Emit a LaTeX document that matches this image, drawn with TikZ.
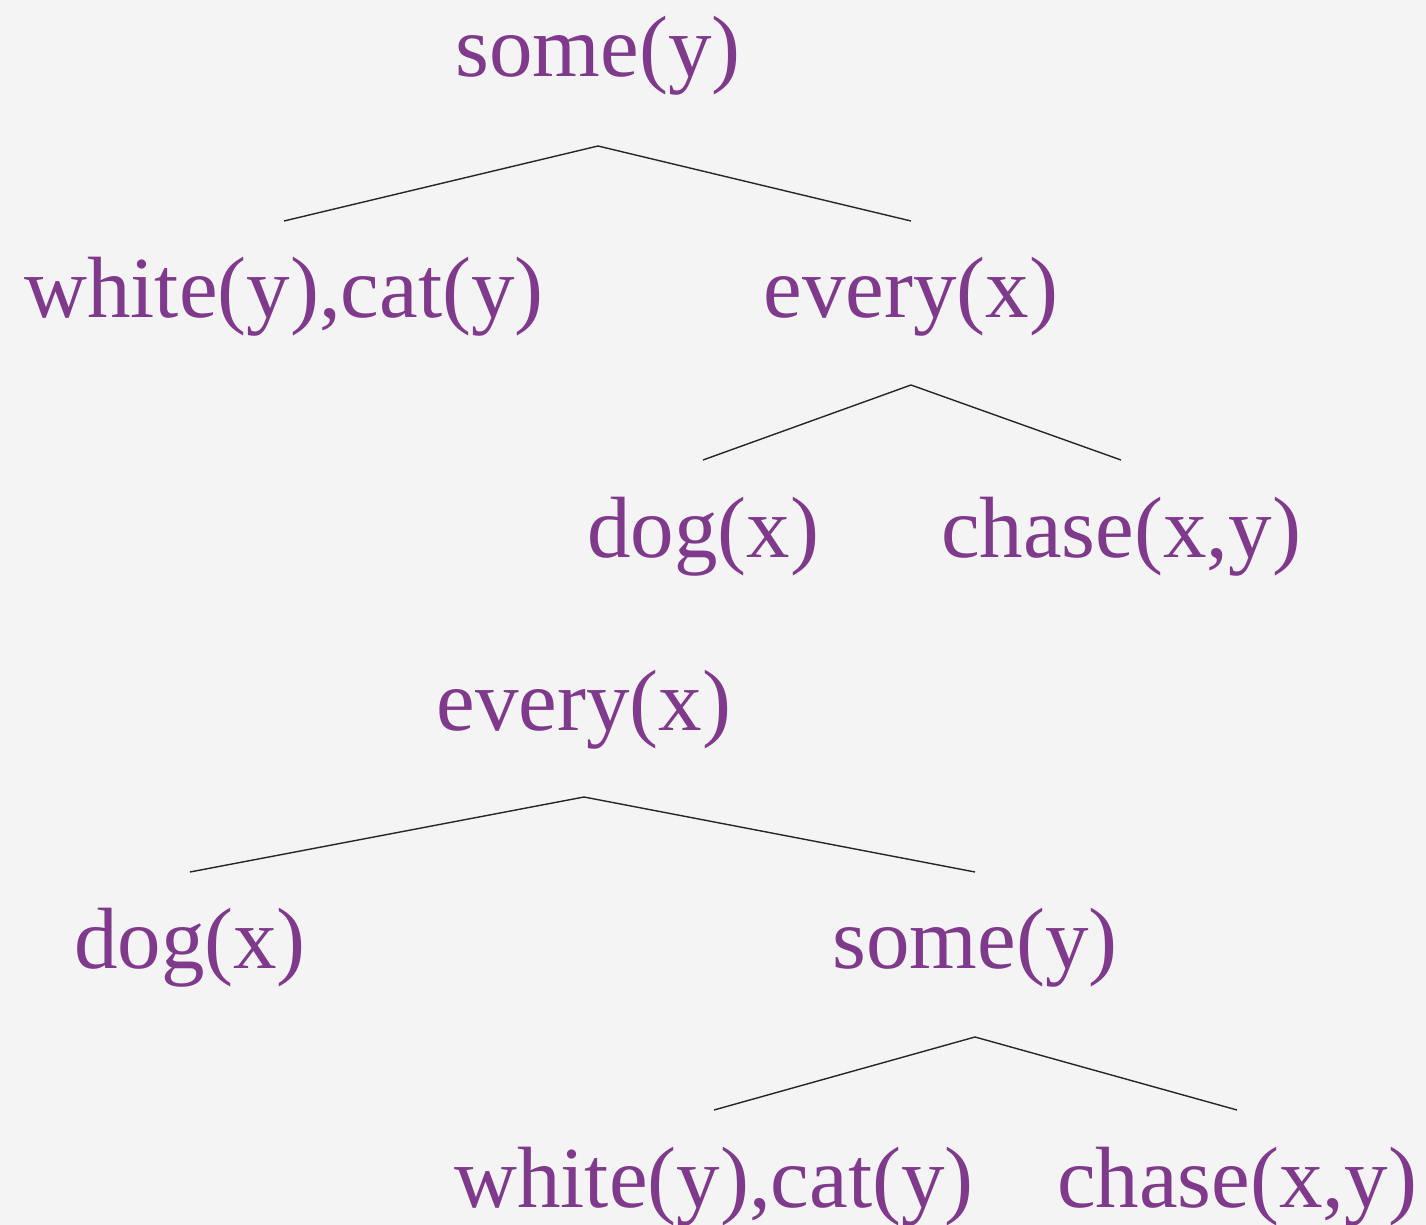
\documentclass[tikz,border=0pt]{standalone}
\usepackage{fontspec}
\setmainfont{Liberation Serif}
\usepackage{xcolor}
\usepackage{tikz}
\definecolor{predpurple}{RGB}{128,58,140}
\definecolor{bggray}{RGB}{244,244,244}

\begin{document}
\begin{tikzpicture}[
    x=0.5pt, y=-0.5pt,
    pred/.style={inner sep=0pt, anchor=base, text=predpurple, font=\fontsize{43.5}{50}\selectfont},
    edge/.style={draw=black!85, line width=0.7pt}
]
    \fill[bggray] (0,0) rectangle (1426,1225);
    \useasboundingbox (0,0) rectangle (1426,1225);

    % first reading
    \node[pred] (some1) at (598,77) {some(y)};
    \node[pred] (white1) at (284,318) {white(y),cat(y)};
    \node[pred] (every1) at (911,318) {every(x)};
    \node[pred] (dog1) at (703,557) {dog(x)};
    \node[pred] (chase1) at (1121,557) {chase(x,y)};

    % second reading
    \node[pred] (every2) at (584,730) {every(x)};
    \node[pred] (dog2) at (190,968) {dog(x)};
    \node[pred] (some2) at (975,968) {some(y)};
    \node[pred] (white2) at (714,1207) {white(y),cat(y)};
    \node[pred] (chase2) at (1237,1207) {chase(x,y)};

    \draw[edge] ([yshift=48.5pt]white1.base) -- ([yshift=-34.5pt]some1.base) -- ([yshift=48.5pt]every1.base);
    \draw[edge] ([yshift=48.5pt]dog1.base) -- ([yshift=-33.5pt]every1.base) -- ([yshift=48.5pt]chase1.base);
    \draw[edge] ([yshift=48pt]dog2.base) -- ([yshift=-33.5pt]every2.base) -- ([yshift=48pt]some2.base);
    \draw[edge] ([yshift=48.5pt]white2.base) -- ([yshift=-34.5pt]some2.base) -- ([yshift=48.5pt]chase2.base);
\end{tikzpicture}
\end{document}
